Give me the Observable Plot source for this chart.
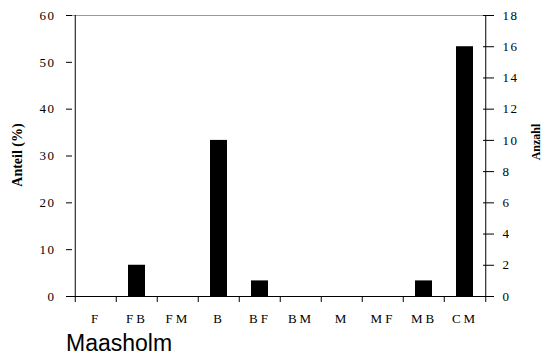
<!DOCTYPE html>
<html>
<head>
<meta charset="utf-8">
<script src="https://cdn.jsdelivr.net/npm/d3@7"></script>
<script src="https://cdn.jsdelivr.net/npm/@observablehq/plot@0.6"></script>
<style>
  html, body { margin: 0; padding: 0; background: #fff; }
  #chart svg { display: block; }
  #chart g[aria-label="x-axis tick label"] text { letter-spacing: 3px; }
  #chart g[aria-label="y-axis tick label"] text { letter-spacing: 1.5px; }
  #chart g[aria-label="left-title"] text { letter-spacing: 0.7px; }
  #chart g[aria-label="right-title"] text { letter-spacing: -1.2px; }
  #caption { font-family: "Liberation Sans", Arial, sans-serif; font-size: 23px; line-height: 26px; margin-left: 66px; color: #000; }
</style>
</head>
<body>
<div id="chart"></div>
<div id="caption">Maasholm</div>
<script>
const categories = ["F", "FB", "FM", "B", "BF", "BM", "M", "MF", "MB", "CM"];
const anteil = [0, 6.67, 0, 33.33, 3.33, 0, 0, 0, 3.33, 53.33];
const leftTicks = [0, 10, 20, 30, 40, 50, 60];
const rightTicks = [0, 2, 4, 6, 8, 10, 12, 14, 16, 18];
const rightMax = 18;
const leftMax = 60;
const leftTitle = "Anteil (%)";
const rightTitle = "Anzahl";

const data = categories.map((c, i) => ({cat: c, v: anteil[i]}));

const W = 550, H = 330, ML = 72, MR = 63, MT = 15, MB = 34;
const step = (W - ML - MR) / categories.length;
const serif = "'Liberation Serif', 'Times New Roman', serif";
const rightPos = rightTicks.map(d => d * leftMax / rightMax);

const plot = Plot.plot({
  width: W,
  height: H,
  marginLeft: ML,
  marginRight: MR,
  marginTop: MT,
  marginBottom: MB,
  style: {fontFamily: serif, fontSize: "13px", color: "#000", background: "#fff"},
  x: {domain: categories, padding: 0, axis: null},
  y: {domain: [0, leftMax], axis: null},
  marks: [
    Plot.ruleY([leftMax], {stroke: "#999", strokeWidth: 1}),
    Plot.barY(data, {x: "cat", y: "v", fill: "#000", insetLeft: 12, insetRight: 12}),
    Plot.ruleY([0], {stroke: "#000"}),
    Plot.ruleX([categories[0]], {dx: -step / 2, y1: 0, y2: leftMax, stroke: "#000"}),
    Plot.ruleX([categories[categories.length - 1]], {dx: step / 2, y1: 0, y2: leftMax, stroke: "#000"}),
    Plot.axisX({anchor: "bottom", tickSize: 6, dx: -step / 2, tickFormat: () => "", label: null}),
    Plot.axisX([categories[categories.length - 1]], {anchor: "bottom", tickSize: 6, dx: step / 2, tickFormat: () => "", label: null}),
    Plot.axisX({anchor: "bottom", tickSize: 0, tickPadding: 17, fontSize: 13, fontFamily: serif, label: null, fill: "#000"}),
    Plot.axisY(leftTicks, {anchor: "left", tickSize: 6, tickPadding: 11, label: null, fontSize: 13, fontFamily: serif, fill: "#000"}),
    Plot.axisY(rightPos, {anchor: "right", tickSize: 11, dx: -5, tickFormat: () => "", label: null}),
    Plot.axisY(rightPos, {anchor: "right", tickSize: 6, tickPadding: 9, tickFormat: d => String(Math.round(d * rightMax / leftMax)), label: null, fontSize: 13, fontFamily: serif, stroke: "none", fill: "#000"}),
    Plot.text([leftTitle], {ariaLabel: "left-title", frameAnchor: "left", textAnchor: "middle", text: d => d, rotate: -90, dx: -55, dy: -1, fontWeight: "bold", fontSize: 14, fontFamily: serif, fill: "#000"}),
    Plot.text([rightTitle], {ariaLabel: "right-title", frameAnchor: "right", textAnchor: "middle", text: d => d, rotate: -90, dx: 49, dy: -14, fontWeight: "bold", fontSize: 12, fontFamily: serif, fill: "#000"})
  ]
});
document.getElementById("chart").appendChild(plot);
</script>
</body>
</html>
